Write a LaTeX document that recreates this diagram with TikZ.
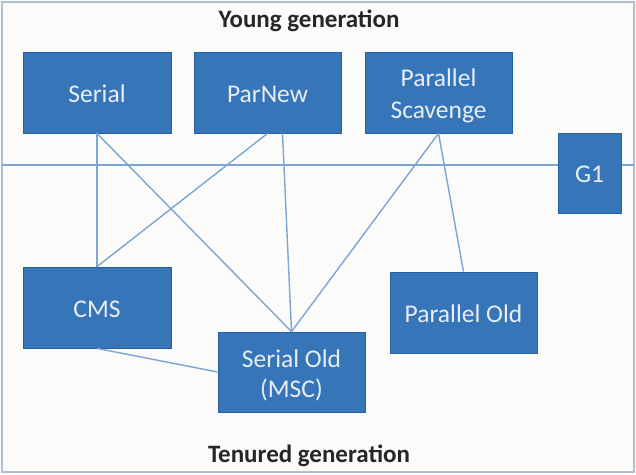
\documentclass[tikz,border=0pt]{standalone}
\usepackage{fontspec}
\setmainfont{Carlito}
\usetikzlibrary{calc}
\definecolor{boxblue}{RGB}{54,117,184}
\definecolor{boxedge}{RGB}{40,95,160}
\definecolor{linkblue}{RGB}{125,165,212}
\definecolor{framecol}{RGB}{175,190,208}
\definecolor{bgcol}{RGB}{251,251,249}
\definecolor{txtwhite}{RGB}{232,237,246}
\newcommand{\gcstrut}{\rule{0pt}{24pt}}
\tikzset{
  gcbox/.style={draw=boxedge, line width=0.8pt, fill=boxblue, text=txtwhite,
    inner sep=0pt, align=center, font=\fontsize{25.5}{31.5}\selectfont},
  link/.style={draw=linkblue, line width=1.4pt},
  title/.style={font=\bfseries\fontsize{25}{28}\selectfont, text=black!85}
}
\begin{document}
\begin{tikzpicture}[x=1pt,y=-1pt]
\useasboundingbox (0,0) rectangle (636,474);
\fill[bgcol] (0,0) rectangle (636,474);
\draw[framecol, line width=1.5pt] (2,2) rectangle (634,472);
\coordinate (hl) at (2,165);
\coordinate (hr) at (634,165);
\draw[link] (hl) -- (hr);
\node[gcbox, minimum width=148pt, minimum height=81pt] (serial) at (97,92.5) {\rule{0pt}{20pt}Serial};
\node[gcbox, minimum width=147pt, minimum height=81pt] (parnew) at (267.5,92.5) {\rule{0pt}{20pt}ParNew};
\node[gcbox, minimum width=147pt, minimum height=81pt] (ps) at (438.5,92.5) {\gcstrut Parallel\\Scavenge};
\node[gcbox, minimum width=63pt, minimum height=80pt] (g1) at (589.5,173) {\rule{0pt}{20pt}G1};
\node[gcbox, minimum width=148pt, minimum height=81pt] (cms) at (97,307.5) {\rule{0pt}{20pt}CMS};
\node[gcbox, minimum width=147pt, minimum height=80pt] (sold) at (291.5,372) {\gcstrut Serial Old\\[-1.5pt](MSC)};
\node[gcbox, minimum width=147pt, minimum height=81pt] (pold) at (463.5,312.5) {\rule{0pt}{20pt}Parallel Old};
\draw[link] (serial.south) -- (cms.north);
\draw[link] (serial.south) -- (sold.north);
\draw[link] (parnew.south) -- (cms.north);
\draw[link] ($(parnew.south)+(15,0)$) -- (sold.north);
\draw[link] (ps.south) -- (sold.north);
\draw[link] (ps.south) -- (pold.north);
\draw[link] (cms.south) -- (sold.west);
\node[title] (young) at (309,21) {Young generation};
\node[title] (tenured) at (309,456) {Tenured generation};
\end{tikzpicture}
\end{document}
